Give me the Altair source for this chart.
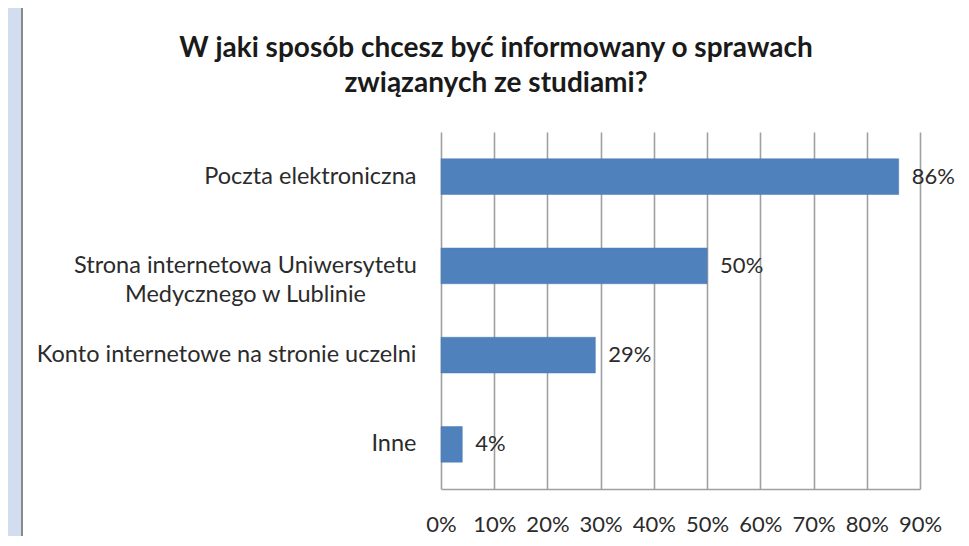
import altair as alt
import pandas as pd

categories = [
    "Poczta elektroniczna",
    "Strona internetowa Uniwersytetu|Medycznego w Lublinie",
    "Konto internetowe na stronie uczelni",
    "Inne",
]
values = [0.86, 0.50, 0.29, 0.04]
value_labels = ["86%", "50%", "29%", "4%"]
x_ticks = [0, 0.1, 0.2, 0.3, 0.4, 0.5, 0.6, 0.7, 0.8, 0.9]
title_lines = ["W jaki sposób chcesz być informowany o sprawach", "związanych ze studiami?"]

FONT = "Lato"
PAGE_BG = "#d2ddef"
BORDER = "#8a8a8a"
GRID = "#a0a0a0"
TEXT = "#2b2b2b"
LABEL_SIZE = 23.5

df = pd.DataFrame({"cat": categories, "val": values, "lab": value_labels})

y_enc = alt.Y(
    "cat:N",
    sort=categories,
    scale=alt.Scale(paddingInner=0.6, paddingOuter=0.3),
    axis=alt.Axis(
        title=None,
        domain=False,
        ticks=False,
        grid=False,
        labelFont=FONT,
        labelFontSize=LABEL_SIZE,
        labelColor=TEXT,
        labelLimit=500,
        labelLineHeight=29,
        labelExpr="split(datum.label, '|')",
        labelAlign={"condition": {"test": "indexof(datum.value, '|') >= 0", "value": "center"}, "value": "right"},
        labelPadding={"condition": {"test": "indexof(datum.value, '|') >= 0", "value": 196}, "value": 25},
        labelBaseline="middle",
    ),
)

x_enc = alt.X(
    "val:Q",
    scale=alt.Scale(domain=[0, 0.9], nice=False),
    axis=alt.Axis(
        title=None,
        values=x_ticks,
        format=".0%",
        grid=True,
        gridColor=GRID,
        gridWidth=1.6,
        domain=True,
        domainColor=GRID,
        domainWidth=1.6,
        ticks=False,
        tickSize=0,
        labelFont=FONT,
        labelFontSize=22,
        labelColor=TEXT,
        labelPadding=35,
        labelBaseline="middle",
        labelFlush=False,
    ),
)

bars = alt.Chart(df).mark_bar(color="#4f81bd", stroke="#4a7ab3", strokeWidth=0.5).encode(x=x_enc, y=y_enc)

texts = alt.Chart(df).mark_text(
    align="left", baseline="middle", dx=13, font=FONT, fontSize=22, color=TEXT
).encode(x=alt.X("val:Q"), y=alt.Y("cat:N", sort=categories), text="lab:N")

deco = alt.Data(values=[{}])
left_strip = alt.Chart(deco).mark_rect(fill=PAGE_BG).encode(
    x=alt.value(-445), x2=alt.value(-420), y=alt.value(-124), y2=alt.value(404)
)
left_border = alt.Chart(deco).mark_rect(fill=BORDER).encode(
    x=alt.value(-420), x2=alt.value(-418), y=alt.value(-124), y2=alt.value(404)
)
title = alt.Chart(deco).mark_text(
    text=title_lines,
    font=FONT,
    fontSize=28,
    fontWeight="bold",
    color="#1a1a1a",
    align="center",
    baseline="alphabetic",
    lineHeight=35,
).encode(x=alt.value(55), y=alt.value(-75))

chart = (
    alt.layer(left_strip, left_border, bars, texts, title)
    .properties(
        width=479,
        height=357,
        padding={"left": 433, "top": 124, "right": 41, "bottom": 47},
        autosize=alt.AutoSizeParams(type="none"),
        background="white",
    )
    .configure_view(stroke=None)
)

chart.save("out.html", embed_options={"renderer": "svg", "actions": False})
